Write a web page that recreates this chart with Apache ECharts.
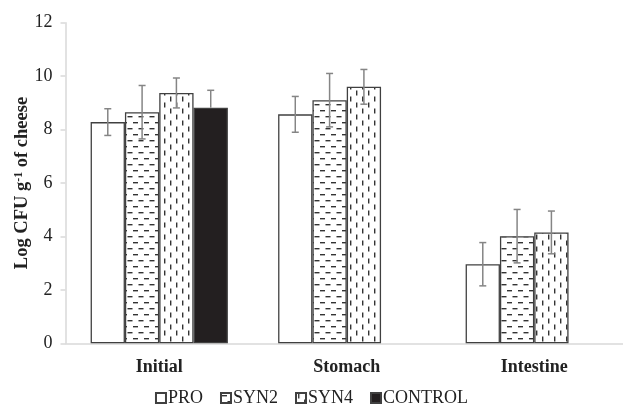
<!DOCTYPE html>
<html>
<head>
<meta charset="utf-8">
<script src="https://cdn.jsdelivr.net/npm/echarts@6/dist/echarts.min.js"></script>
<style>html,body{margin:0;padding:0;background:#fff}#c{width:623px;height:408px}</style>
</head>
<body>
<div id="c"></div>
<script>
var categories = ['Initial', 'Stomach', 'Intestine'];
var seriesNames = ['PRO', 'SYN2', 'SYN4', 'CONTROL'];
var proValues = [8.28, 8.57, 2.96];
var syn2Values = [8.65, 9.1, 4.01];
var syn4Values = [9.37, 9.6, 4.15];
var controlValues = [8.82, null, null];
var proErrors = [0.5, 0.67, 0.81];
var syn2Errors = [1.0, 1.0, 1.0];
var syn4Errors = [0.56, 0.65, 0.8];
var controlErrors = [0.65, null, null];
var yTicks = [0, 2, 4, 6, 8, 10, 12];

function makePattern(type) {
  var c = document.createElement('canvas');
  var ctx;
  if (type === 'h') {
    c.width = 11; c.height = 12;
    ctx = c.getContext('2d');
    ctx.fillStyle = '#fff';
    ctx.fillRect(0, 0, 11, 12);
    ctx.fillStyle = '#333';
    ctx.fillRect(1, 2, 5, 1.4);
    ctx.fillRect(6.5, 8, 4.5, 1.4);
    ctx.fillRect(0, 8, 0.5, 1.4);
  } else {
    c.width = 12; c.height = 12;
    ctx = c.getContext('2d');
    ctx.fillStyle = '#fff';
    ctx.fillRect(0, 0, 12, 12);
    ctx.fillStyle = '#333';
    ctx.fillRect(2, 0.5, 1.4, 5);
    ctx.fillRect(8, 6.5, 1.4, 5);
  }
  return c;
}

var BARW = 0.183;
var valuesList = [proValues, syn2Values, syn4Values, controlValues];
var errorsList = [proErrors, syn2Errors, syn4Errors, controlErrors];
var fills = ['#ffffff', {image: makePattern('h'), repeat: 'repeat'}, {image: makePattern('v'), repeat: 'repeat'}, '#231f20'];

var series = [];
seriesNames.forEach(function (name, i) {
  series.push({
    name: name,
    type: 'bar',
    data: valuesList[i],
    barWidth: (BARW * 100) + '%',
    barGap: '0%',
    itemStyle: {color: fills[i], borderColor: '#404040', borderWidth: 1.3},
    emphasis: {disabled: true},
    z: 2
  });
});
seriesNames.forEach(function (name, i) {
  var d = [];
  for (var k = 0; k < categories.length; k++) {
    if (valuesList[i][k] != null) d.push([k, valuesList[i][k], errorsList[i][k]]);
  }
  var off = i - 1.5;
  var plusOnly = (name === 'CONTROL');
  series.push({
    type: 'custom',
    name: name + '_err',
    data: d,
    z: 5,
    silent: true,
    encode: {x: 0, y: 1},
    renderItem: function (params, api) {
      var cat = api.value(0), v = api.value(1), e = api.value(2);
      var bw = api.size([1, 0])[0] * BARW;
      var p = api.coord([cat, v]);
      var x = p[0] + off * bw;
      var yt = api.coord([cat, v + e])[1];
      var yb = plusOnly ? p[1] : api.coord([cat, v - e])[1];
      var st = {stroke: '#858585', lineWidth: 1.5};
      var ch = [
        {type: 'line', shape: {x1: x, y1: yt, x2: x, y2: yb}, style: st},
        {type: 'line', shape: {x1: x - 3.5, y1: yt, x2: x + 3.5, y2: yt}, style: st}
      ];
      if (!plusOnly) ch.push({type: 'line', shape: {x1: x - 3.5, y1: yb, x2: x + 3.5, y2: yb}, style: st});
      return {type: 'group', children: ch};
    }
  });
});

var chart = echarts.init(document.getElementById('c'), null, {renderer: 'canvas'});
chart.setOption({
  animation: false,
  backgroundColor: '#fff',
  textStyle: {fontFamily: 'Liberation Serif'},
  grid: {left: 65.5, width: 562.5, top: 22.7, bottom: 64.7, containLabel: false, outerBoundsMode: 'none'},
  legend: {
    data: seriesNames,
    bottom: -4,
    left: 'center',
    icon: 'rect',
    itemWidth: 10,
    itemHeight: 10,
    itemGap: 17,
    textStyle: {fontFamily: 'Liberation Serif', fontSize: 18, color: '#222', padding: [0, 0, 0, -3]},
    selectedMode: false
  },
  xAxis: {
    type: 'category',
    data: categories,
    axisLine: {lineStyle: {color: '#d9d9d9', width: 1.5}},
    axisTick: {show: false},
    axisLabel: {fontFamily: 'Liberation Serif', fontWeight: 'bold', fontSize: 18, color: '#222', margin: 15}
  },
  yAxis: {
    type: 'value',
    min: yTicks[0],
    max: yTicks[yTicks.length - 1],
    interval: 2,
    splitLine: {show: false},
    axisLine: {show: true, lineStyle: {color: '#d9d9d9', width: 1.5}},
    axisTick: {show: true, length: 5, lineStyle: {color: '#d9d9d9', width: 1.5}},
    axisLabel: {fontFamily: 'Liberation Serif', fontSize: 18, color: '#222', margin: 13},
    name: 'Log CFU g{sup|-1} of cheese',
    nameLocation: 'middle',
    nameGap: 33,
    nameMoveOverlap: false,
    nameTextStyle: {
      fontFamily: 'Liberation Serif', fontWeight: 'bold', fontSize: 18.5, color: '#222',
      rich: {
        sup: {fontFamily: 'Liberation Serif', fontWeight: 'bold', fontSize: 12, color: '#222', verticalAlign: 'top', padding: [0, 0, 8, 0]}
      }
    }
  },
  series: series
});
</script>
</body>
</html>
